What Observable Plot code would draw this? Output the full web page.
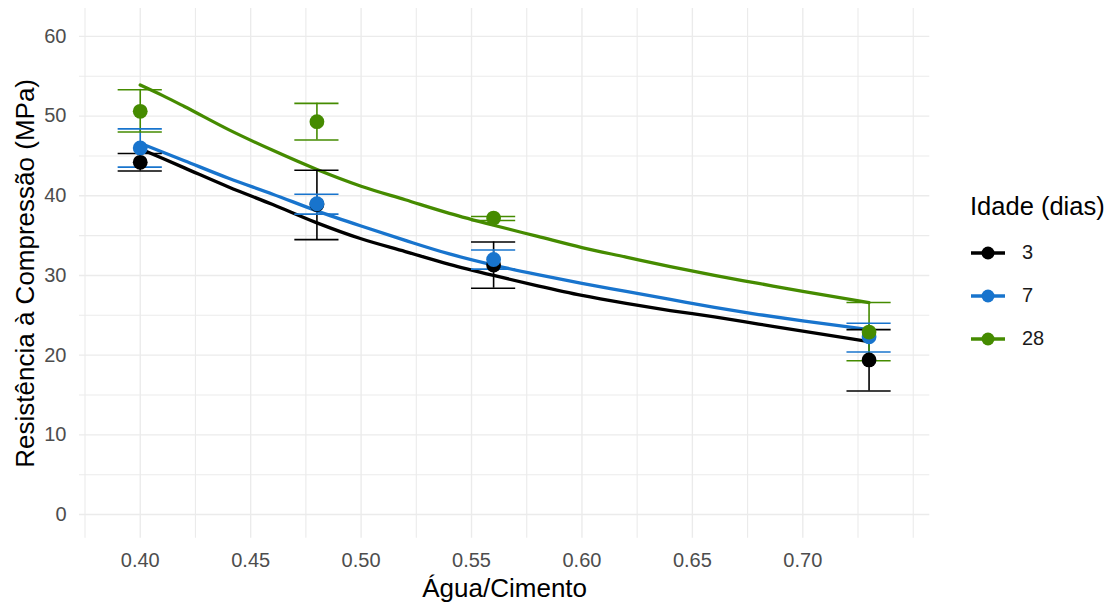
<!DOCTYPE html>
<html>
<head>
<meta charset="utf-8">
<script src="https://cdn.jsdelivr.net/npm/d3@7"></script>
<script src="https://cdn.jsdelivr.net/npm/@observablehq/plot@0.6"></script>
<style>
  html, body { margin: 0; padding: 0; background: #fff; }
  #wrap { position: relative; width: 1112px; height: 607px; font-family: "Liberation Sans", Arial, sans-serif; }
  #chart { position: absolute; left: 0; top: 0; }
  #legend { position: absolute; left: 970px; top: 192px; }
  #legend .title { font-size: 25.5px; color: #000; margin-bottom: 10px; white-space: nowrap; }
  #legend .row { display: flex; align-items: center; height: 43px; }
  #legend .row span { font-size: 20px; color: #1a1a1a; margin-left: 16px; }
</style>
</head>
<body>
<div id="wrap">
  <div id="chart"></div>
  <div id="legend"></div>
</div>
<script>
// ---- data ----
const ages = ["3", "7", "28"];
const ageColors = ["#000000", "#1874CD", "#458B00"];
const wc = [0.40, 0.48, 0.56, 0.73];

const mean3  = [44.2, 38.9, 31.3, 19.4];
const lo3    = [43.1, 34.5, 28.4, 15.5];
const hi3    = [45.3, 43.2, 34.2, 23.2];
const mean7  = [46.0, 39.0, 32.0, 22.3];
const lo7    = [43.6, 37.7, 30.8, 20.4];
const hi7    = [48.4, 40.2, 33.2, 24.0];
const mean28 = [50.6, 49.3, 37.2, 22.9];
const lo28   = [48.0, 47.0, 36.9, 19.3];
const hi28   = [53.3, 51.6, 37.4, 26.6];

// fitted curves
const curveX  = [0.40, 0.41, 0.42, 0.44, 0.46, 0.48, 0.50, 0.52, 0.54, 0.56, 0.58, 0.60, 0.62, 0.64, 0.66, 0.68, 0.70, 0.73];
const curve3  = [45.9, 44.7, 43.5, 41.1, 38.9, 36.6, 34.6, 33.0, 31.4, 30.0, 28.7, 27.5, 26.5, 25.6, 24.8, 23.9, 23.0, 21.7];
const curve7  = [46.6, 45.5, 44.4, 42.2, 40.2, 38.1, 36.2, 34.4, 32.7, 31.3, 30.1, 29.0, 28.0, 27.0, 26.0, 25.1, 24.3, 23.2];
const curve28 = [53.9, 52.6, 51.2, 48.3, 45.7, 43.3, 41.2, 39.5, 37.8, 36.3, 34.9, 33.5, 32.3, 31.1, 30.0, 29.0, 28.0, 26.6];

const xTicks = [0.40, 0.45, 0.50, 0.55, 0.60, 0.65, 0.70];
const xMinor = [0.375, 0.425, 0.475, 0.525, 0.575, 0.625, 0.675, 0.725, 0.75];
const yTicks = [0, 10, 20, 30, 40, 50, 60];
const yMinor = [5, 15, 25, 35, 45, 55];

const xLabel = "Água/Cimento";
const yLabel = "Resistência à Compressão (MPa)";
const legendTitle = "Idade (dias)";

// ---- tables ----
const means = [mean3, mean7, mean28], los = [lo3, lo7, lo28], his = [hi3, hi7, hi28];
const curves = [curve3, curve7, curve28];
const obs = [];
ages.forEach((a, g) => wc.forEach((x, i) => obs.push({age: a, x, y: means[g][i], lo: los[g][i], hi: his[g][i]})));
const fit = [];
ages.forEach((a, g) => curveX.forEach((x, i) => fit.push({age: a, x, y: curves[g][i]})));

const capHalf = 0.01;
const gridColor = "#EBEBEB";

const plot = Plot.plot({
  width: 945,
  height: 607,
  marginLeft: 79,
  marginRight: 15.7,
  marginTop: 8,
  marginBottom: 69.3,
  style: {fontFamily: "'Liberation Sans', Arial, sans-serif", background: "transparent"},
  x: {domain: [0.3725, 0.7575]},
  y: {domain: [-2.97, 63.5]},
  color: {domain: ages, range: ageColors},
  marks: [
    Plot.gridX(xMinor, {stroke: gridColor, strokeOpacity: 1, strokeWidth: 1.1}),
    Plot.gridY(yMinor, {stroke: gridColor, strokeOpacity: 1, strokeWidth: 1.1}),
    Plot.gridX(xTicks, {stroke: gridColor, strokeOpacity: 1, strokeWidth: 1.4}),
    Plot.gridY(yTicks, {stroke: gridColor, strokeOpacity: 1, strokeWidth: 1.4}),
    Plot.axisX(xTicks, {tickSize: 0, tickPadding: 15, tickFormat: d3.format(".2f"), fontSize: 20, fill: "#4D4D4D", label: null}),
    Plot.axisY(yTicks, {tickSize: 0, tickPadding: 13, fontSize: 20, fill: "#4D4D4D", label: null}),
    Plot.text([xLabel], {frameAnchor: "bottom", dy: 59, fontSize: 26, fill: "#000", text: d => d}),
    Plot.text([yLabel], {frameAnchor: "left", dx: -54, rotate: -90, textAnchor: "middle", fontSize: 26, fill: "#000", text: d => d}),
    Plot.line(fit, {x: "x", y: "y", stroke: "age", strokeWidth: 3.3, curve: "monotone-x"}),
    Plot.ruleX(obs, {x: "x", y1: "lo", y2: "hi", stroke: "age", strokeWidth: 1.6}),
    Plot.ruleY(obs, {y: "lo", x1: d => d.x - capHalf, x2: d => d.x + capHalf, stroke: "age", strokeWidth: 1.6}),
    Plot.ruleY(obs, {y: "hi", x1: d => d.x - capHalf, x2: d => d.x + capHalf, stroke: "age", strokeWidth: 1.6}),
    Plot.dot(obs, {x: "x", y: "y", fill: "age", r: 7.4, stroke: "none"})
  ]
});
document.getElementById("chart").appendChild(plot);

// ---- legend ----
const leg = document.getElementById("legend");
const t = document.createElement("div");
t.className = "title";
t.textContent = legendTitle;
leg.appendChild(t);
ages.forEach((a, i) => {
  const row = document.createElement("div");
  row.className = "row";
  row.innerHTML = `<svg width="36" height="20"><line x1="1" x2="35" y1="10" y2="10" stroke="${ageColors[i]}" stroke-width="3.3"/><circle cx="18" cy="10" r="6.5" fill="${ageColors[i]}"/></svg><span>${a}</span>`;
  leg.appendChild(row);
});
</script>
</body>
</html>
